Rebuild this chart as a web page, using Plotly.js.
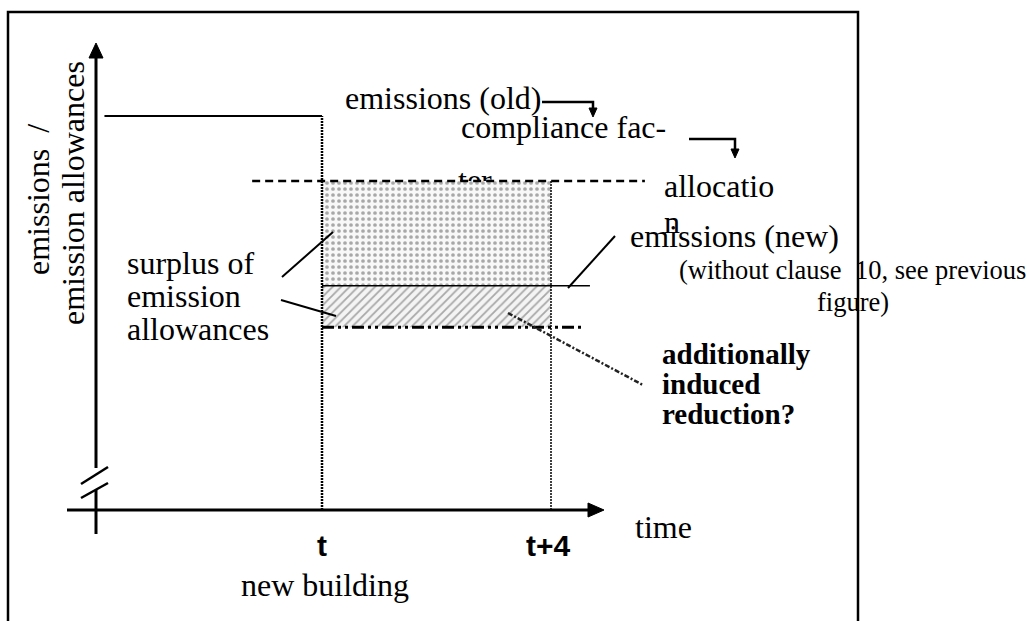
<!DOCTYPE html>
<html>
<head>
<meta charset="utf-8">
<script src="https://cdn.plot.ly/plotly-3.0.1.min.js"></script>
<style>html,body{margin:0;padding:0;background:#fff;}#chart{width:1029px;height:621px;}</style>
</head>
<body>
<div id="chart"></div>
<script>
// ---- data (schematic values) ----
const periodLabels = ['t', 't+4'];
const periodX = [0, 4];                       // years relative to the new building
const levelNames = ['emissions (old)', 'allocation', 'emissions (new)', 'reduced emissions'];
const levels = [100, 83.5, 56.9, 46.4];       // relative emission level
const oldStartX = -3.8;                       // emissions (old) line starts here
const allocSpan = [-1.22, 5.64];              // allocation dashed line extent
const newEndX = 4.68;                         // emissions (new) line end
const reducedEndX = 4.54;                     // reduced emissions line end

// ---- page geometry helpers (decoration only) ----
const W = 1029, H = 621;
const PX = p => p / W;
const PY = p => 1 - p / H;
// time -> pixel: 322 + 57.25*t ; level -> pixel: 510 - 3.94*L
const xRange = [(0 - 322) / 57.25, (W - 322) / 57.25];
const yRange = [(510 - H) / 3.94, (510 - 0) / 3.94];
const dX = p => (p - 322) / 57.25;   // pixel -> data (for the hidden wrapped word)
const dY = p => (510 - p) / 3.94;

const [tA, tB] = periodX;
const [lOld, lAlloc, lNew, lRed] = levels;
const serif = 'Liberation Serif, Times New Roman, serif';
const NB = '\u00a0';

const traces = [
  { // wrapped word of "compliance factor", mostly hidden behind the surplus box
    x: [dX(458)], y: [dY(183)], mode: 'text', text: ['ter'], textposition: 'middle right',
    textfont: {family: serif, size: 32, color: '#000'}, hoverinfo: 'skip'
  },
  { // surplus (allocation - new emissions) dotted area
    x: [tA, tB, tB, tA, tA], y: [lAlloc, lAlloc, lNew, lNew, lAlloc],
    mode: 'lines', line: {width: 0}, fill: 'toself', fillcolor: '#ffffff',
    fillpattern: {shape: '.', fgcolor: '#a8a8a8', bgcolor: '#f8f8f8', size: 6, solidity: 0.3},
    hoverinfo: 'skip'
  },
  { // additionally induced reduction hatched area
    x: [tA, tB, tB, tA, tA], y: [lNew, lNew, lRed, lRed, lNew],
    mode: 'lines', line: {width: 0}, fill: 'toself', fillcolor: '#ffffff',
    fillpattern: {shape: '/', fgcolor: '#a8a8a8', bgcolor: '#f4f4f4', size: 6, solidity: 0.3},
    hoverinfo: 'skip'
  },
  { name: levelNames[0], x: [oldStartX, tA], y: [lOld, lOld], mode: 'lines', line: {color: '#000', width: 2} },
  { x: [tA, tA], y: [0, lOld], mode: 'lines', line: {color: '#000', width: 2.5, dash: '2px,1px'} },
  { x: [tB, tB], y: [0, lAlloc], mode: 'lines', line: {color: '#000', width: 1.5, dash: '2px,1px'} },
  { name: levelNames[1], x: allocSpan, y: [lAlloc, lAlloc], mode: 'lines', line: {color: '#000', width: 2.5, dash: '8px,5px'} },
  { name: levelNames[2], x: [tA, newEndX], y: [lNew, lNew], mode: 'lines', line: {color: '#000', width: 1.6} },
  { name: levelNames[3], x: [tA, reducedEndX], y: [lRed, lRed], mode: 'lines', line: {color: '#000', width: 3, dash: '12px,4px,3px,4px,3px,4px'} }
];

function seg(x0, y0, x1, y1, w, dash, color) {
  return {type: 'line', xref: 'paper', yref: 'paper', x0: PX(x0), y0: PY(y0), x1: PX(x1), y1: PY(y1),
          line: {color: color || '#000', width: w, dash: dash || 'solid'}, layer: 'above'};
}
function tri(pts) {
  const d = 'M ' + pts.map(p => PX(p[0]) + ',' + PY(p[1])).join(' L ') + ' Z';
  return {type: 'path', xref: 'paper', yref: 'paper', path: d, fillcolor: '#000', line: {color: '#000', width: 1}, layer: 'above'};
}

const shapes = [
  // frame
  {type: 'rect', xref: 'paper', yref: 'paper', x0: PX(8), y0: PY(12), x1: PX(858), y1: PY(640), line: {color: '#000', width: 2.5}, layer: 'above'},
  // y axis with break
  seg(96, 57, 96, 468, 3),
  seg(96, 490, 96, 534, 3),
  seg(81, 484, 108, 467, 2.5),
  seg(81, 498, 108, 483, 2.5),
  tri([[96, 43], [89, 58], [103, 58]]),
  // x axis
  seg(67, 510, 590, 510, 3.2),
  tri([[604, 510], [588, 503], [588, 517]]),
  // pointer lines
  seg(282, 277, 333, 232, 2),
  seg(281, 300, 336, 316, 2),
  seg(568, 288, 615, 236, 2),
  seg(508, 313, 643, 385, 2.5, '5px,2px,2px,2px', '#222'),
  // arrow emissions(old) -> compliance factor
  {type: 'path', xref: 'paper', yref: 'paper', path: `M ${PX(542)},${PY(102)} L ${PX(593)},${PY(102)} L ${PX(593)},${PY(110)}`, line: {color: '#000', width: 2.5}, layer: 'above'},
  tri([[593, 117], [589, 108], [597, 108]]),
  // arrow compliance factor -> allocation
  {type: 'path', xref: 'paper', yref: 'paper', path: `M ${PX(689)},${PY(139)} L ${PX(735)},${PY(139)} L ${PX(735)},${PY(150)}`, line: {color: '#000', width: 2.5}, layer: 'above'},
  tri([[735, 158], [731, 149], [739, 149]])
];

function txt(text, x, y, opts) {
  opts = opts || {};
  return Object.assign({
    text: text, xref: 'paper', yref: 'paper', x: PX(x), y: PY(y), showarrow: false,
    xanchor: 'left', yanchor: 'middle',
    font: {family: serif, size: 32, color: '#000'}
  }, opts);
}

const annotations = [
  txt('emissions' + NB + NB + '/', 38, 200, {textangle: -90, xanchor: 'center'}),
  txt('emission allowances', 73, 193, {textangle: -90, xanchor: 'center'}),
  txt(levelNames[0], 343, 98),
  txt('compliance fac-', 459, 127),
  txt('allocatio', 662, 186),
  txt('n', 662, 222),
  txt(levelNames[2], 628, 236),
  txt('(without clause  10, see previous', 677, 270, {font: {family: serif, size: 26.5, color: '#000'}}),
  txt('figure)', 815, 302, {font: {family: serif, size: 26.5, color: '#000'}}),
  txt('surplus of', 125, 263),
  txt('emission', 125, 296),
  txt('allowances', 125, 329),
  txt('<b>additionally</b>', 660, 354, {font: {family: serif, size: 29, color: '#000'}}),
  txt('<b>induced</b>', 660, 384, {font: {family: serif, size: 29, color: '#000'}}),
  txt('<b>reduction?</b>', 660, 414, {font: {family: serif, size: 29, color: '#000'}}),
  txt('time', 633, 527),
  txt('<b>' + periodLabels[0] + '</b>', 0, 0, {xref: 'x', x: periodX[0], y: PY(545), xanchor: 'center', font: {family: 'Liberation Sans, Arial, sans-serif', size: 30, color: '#000'}}),
  txt('<b>' + periodLabels[1] + '</b>', 0, 0, {xref: 'x', x: periodX[1] - 0.05, y: PY(545), xanchor: 'center', font: {family: 'Liberation Sans, Arial, sans-serif', size: 30, color: '#000'}}),
  txt('new building', 0, 0, {xref: 'x', x: periodX[0] + 0.05, y: PY(585), xanchor: 'center'})
];

const layout = {
  width: W, height: H, margin: {l: 0, r: 0, t: 0, b: 0},
  paper_bgcolor: '#fff', plot_bgcolor: '#fff', showlegend: false,
  xaxis: {range: xRange, visible: false, fixedrange: true},
  yaxis: {range: yRange, visible: false, fixedrange: true},
  shapes: shapes, annotations: annotations
};

Plotly.newPlot('chart', traces, layout, {staticPlot: true, displayModeBar: false});
</script>
</body>
</html>
